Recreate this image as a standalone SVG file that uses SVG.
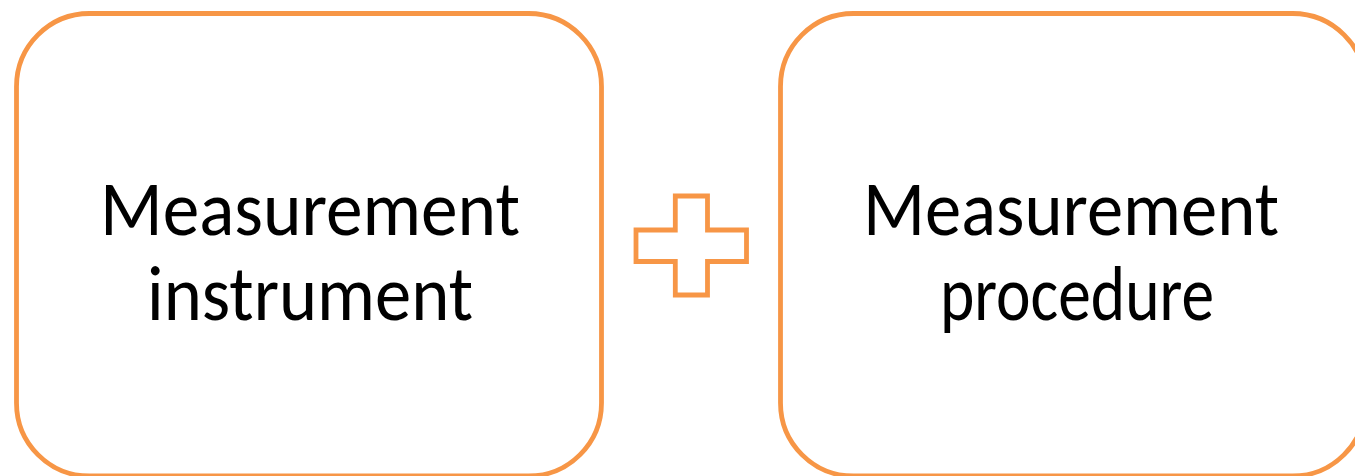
<svg xmlns="http://www.w3.org/2000/svg" width="1355" height="476" viewBox="0 0 1355 476">
  <style>
    .box { fill: #FFFFFF; stroke: #F79646; stroke-width: 4.8; }
    .plus { fill: #FFFFFF; stroke: #F79646; stroke-width: 4.8; stroke-linejoin: miter; }
    .lbl { font-family: Carlito, Lato, "Open Sans", "Liberation Sans", sans-serif; font-size: 78px; fill: #000000; text-anchor: middle; }
  </style>
  <rect width="1355" height="476" fill="#FFFFFF"/>
  <g id="node-instrument">
    <rect class="box" x="16.5" y="13.5" width="585" height="462.5" rx="73" ry="73"/>
    <text class="lbl" x="310" y="235" textLength="420" lengthAdjust="spacingAndGlyphs">Measurement</text>
    <text class="lbl" x="310" y="320" textLength="326" lengthAdjust="spacingAndGlyphs">instrument</text>
  </g>
  <g id="node-plus">
    <path class="plus" d="M675.3,196 H707.5 V230 H746.5 V261.5 H707.5 V295 H675.3 V261.5 H636 V230 H675.3 Z"/>
  </g>
  <g id="node-procedure">
    <rect class="box" x="780.5" y="13.5" width="585" height="462.5" rx="73" ry="73"/>
    <text class="lbl" x="1071" y="235" textLength="416" lengthAdjust="spacingAndGlyphs">Measurement</text>
    <text class="lbl" x="1077" y="320" textLength="274" lengthAdjust="spacingAndGlyphs">procedure</text>
  </g>
  <g id="connectors"/>
</svg>
